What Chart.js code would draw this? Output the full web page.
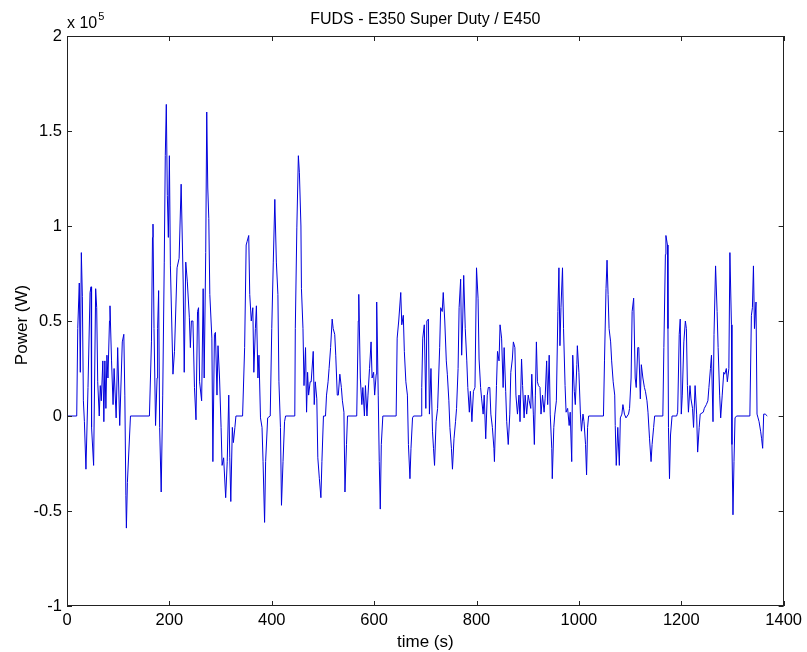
<!DOCTYPE html>
<html>
<head>
<meta charset="utf-8">
<title>FUDS - E350 Super Duty / E450</title>
<script src="https://cdn.jsdelivr.net/npm/chart.js@4"></script>
<style>
  body { margin: 0; background: #fff; }
  canvas { display: block; }
</style>
</head>
<body>
<canvas id="fudsChart" width="807" height="652"></canvas>
<script>
// FUDS power trace (time in s, power in kW)
const timeS = [
    0, 19, 21, 24, 26, 28, 30, 32, 34, 37,
    41, 45, 47, 48, 52, 56, 58, 60, 63, 65,
    67, 70, 72, 74, 76, 78, 80, 83, 84, 87,
    90, 92, 96, 99, 103, 108, 111, 113, 115, 116,
    118, 124, 161, 165, 167, 168, 170, 173, 176, 177,
    179, 181, 184, 187, 190, 192, 194, 196, 198, 200,
    202, 207, 210, 215, 219, 223, 227, 229, 232, 235,
    239, 241, 243, 246, 249, 252, 255, 257, 259, 263,
    266, 268, 271, 273, 275, 277, 279, 283, 285, 288,
    290, 293, 295, 298, 301, 303, 306, 310, 313, 316,
    318, 320, 323, 325, 328, 330, 343, 347, 350, 352,
    355, 357, 360, 363, 365, 368, 370, 373, 375, 378,
    381, 383, 386, 388, 392, 397, 400, 403, 406, 409,
    412, 414, 417, 419, 422, 425, 427, 445, 446, 449,
    452, 454, 457, 458, 461, 463, 466, 468, 470, 472,
    475, 477, 481, 483, 485, 488, 490, 493, 496, 498,
    501, 505, 507, 510, 512, 515, 518, 520, 523, 525,
    528, 530, 533, 536, 538, 541, 543, 546, 548, 566,
    569, 570, 573, 576, 578, 581, 583, 586, 588, 591,
    594, 596, 599, 601, 604, 605, 608, 610, 612, 614,
    617, 643, 645, 648, 652, 654, 657, 659, 662, 665,
    667, 670, 672, 675, 677, 692, 693, 695, 698, 701,
    703, 706, 708, 711, 714, 716, 718, 721, 724, 728,
    730, 733, 735, 738, 741, 743, 746, 748, 751, 753,
    756, 759, 761, 764, 766, 769, 771, 773, 775, 778,
    781, 783, 786, 788, 791, 794, 797, 800, 803, 805,
    808, 810, 813, 815, 818, 821, 823, 826, 828, 831,
    834, 835, 839, 841, 844, 846, 849, 852, 854, 857,
    859, 862, 865, 867, 870, 872, 875, 877, 880, 883,
    885, 888, 890, 893, 895, 898, 901, 903, 906, 908,
    911, 913, 915, 917, 919, 921, 924, 926, 929, 932,
    934, 937, 939, 942, 944, 947, 948, 951, 953, 956,
    959, 961, 963, 965, 968, 970, 973, 975, 978, 981,
    983, 986, 988, 991, 993, 996, 997, 1000, 1003, 1005,
    1008, 1010, 1013, 1015, 1017, 1019, 1048, 1050, 1053, 1055,
    1057, 1059, 1062, 1064, 1067, 1070, 1071, 1073, 1076, 1079,
    1081, 1084, 1086, 1089, 1092, 1097, 1099, 1102, 1104, 1107,
    1110, 1112, 1115, 1117, 1120, 1122, 1125, 1128, 1130, 1133,
    1135, 1138, 1141, 1143, 1146, 1148, 1164, 1166, 1169, 1170,
    1173, 1174, 1175, 1177, 1179, 1182, 1191, 1193, 1196, 1198,
    1200, 1202, 1205, 1208, 1210, 1212, 1214, 1217, 1219, 1222,
    1224, 1227, 1230, 1232, 1235, 1237, 1243, 1245, 1249, 1252,
    1254, 1257, 1259, 1262, 1264, 1267, 1270, 1272, 1275, 1277,
    1280, 1283, 1285, 1288, 1290, 1293, 1295, 1298, 1299, 1301,
    1303, 1305, 1308, 1334, 1337, 1339, 1341, 1343, 1346, 1348,
    1350, 1352, 1355, 1357, 1359, 1361, 1364, 1368
];

const powerKw = [
    0, 0, 46, 70, 23, 86, 63, 8, -3, -28,
    15, 65, 68, -6, -26, 67, 57, 18, 0, 16,
    8, 29, -3, 29, 4, 32, 20, 50, 58, 29,
    6, 25, -1, 36, -5, 39, 43, 11, -42, -59,
    -35, 0, 0, 39, 94, 101, 46, -5, 20, 46,
    66, -6, -40, 11, 81, 137, 164, 116, 94, 137,
    79, 22, 34, 78, 83, 122, 70, 23, 81, 71,
    52, 36, 50, 50, 15, -2, 55, 57, 18, 8,
    67, 20, 86, 160, 120, 104, 64, 41, -24, 43,
    44, 11, 37, 20, -6, -26, -22, -43, -24, 11,
    -22, -45, -6, -14, -6, 0, 0, 36, 90, 92,
    95, 64, 50, 57, 23, 46, 58, 20, 32, -1,
    -6, -24, -56, -24, -1, 0, 46, 81, 114, 81,
    64, 18, -6, -47, -24, -3, 0, 0, 46, 99,
    137, 128, 100, 67, 46, 16, 36, 2, 23, 11,
    18, 18, 34, 6, 18, 9, -22, -33, -43, -24,
    0, 0, 11, 18, 25, 36, 51, 46, 43, 32,
    11, 11, 22, 15, 8, 2, -40, -15, 0, 0,
    50, 64, 20, 6, 15, 0, 16, 0, 11, 25,
    39, 20, 23, 11, 22, 60, 11, -24, -49, -15,
    0, 0, 41, 50, 65, 48, 53, 34, 18, 11,
    -15, -33, -17, -1, 0, 0, 15, 41, 48, 4,
    50, 51, 1, 25, -8, -17, -26, -3, 4, 36,
    57, 55, 65, 50, 29, 22, 8, -6, -17, -28,
    -12, -3, 4, 25, 57, 72, 32, 50, 74, 46,
    29, 15, 2, 13, -3, 13, 15, 78, 62, 30,
    15, 9, 1, 11, -12, 11, 15, 15, 1, -6,
    -17, -24, 16, 34, 29, 48, 41, 15, 36, 13,
    -3, -15, 1, 23, 30, 39, 36, 11, 1, 11,
    -3, 30, 16, -1, 11, 1, 11, 8, 4, 22,
    1, -15, 11, 39, 18, 16, 15, 1, 11, 2,
    9, 29, 6, 32, 1, -17, -33, -6, 1, 8,
    55, 78, 37, 57, 78, 46, 16, 2, 4, -5,
    2, -24, 32, 13, 6, 27, 37, 23, 1, -8,
    1, -3, -15, -31, -6, 0, 0, 29, 67, 82,
    64, 46, 39, 29, 18, 11, -5, -26, -6, -26,
    -1, 1, 6, 1, -1, 1, 4, 20, 55, 62,
    20, 15, 36, 36, 9, 27, 20, 15, 13, 8,
    2, -12, -24, -15, -6, 0, 0, 36, 85, 95,
    90, 46, -6, -33, -10, 0, 0, 2, 43, 51,
    1, 11, 39, 50, 46, 16, 2, 16, 9, 4,
    -6, 16, 1, -19, -6, 1, 2, 4, 6, 8,
    15, 25, 32, -3, 43, 79, 55, 36, 11, -1,
    11, 23, 22, 25, 18, 25, 86, 48, -15, -52,
    -24, -1, 0, 0, 53, 57, 79, 46, 60, 1,
    -1, -3, -8, -12, -17, 1, 1, 0
];

// axis ticks (y ticks are in kW, shown as multiples of 10^5 W)
const xTicks = [0, 200, 400, 600, 800, 1000, 1200, 1400];
const yTicks = [-100, -50, 0, 50, 100, 150, 200];

const FONT = 'Arial, "Liberation Sans", sans-serif';

// MATLAB style frame: box, inward ticks, title, labels, exponent
const matlabFrame = {
    id: 'matlabFrame',
    afterDraw(chart) {
        const ctx = chart.ctx;
        const a = chart.chartArea;
        const xs = chart.scales.x;
        const ys = chart.scales.y;
        const tl = 5;

        ctx.save();
        ctx.strokeStyle = '#222';
        ctx.lineWidth = 1;
        ctx.strokeRect(Math.round(a.left) + 0.5, Math.round(a.top) + 0.5,
            Math.round(a.right - a.left) - 1, Math.round(a.bottom - a.top) - 1);

        ctx.beginPath();
        xTicks.forEach(v => {
            const px = Math.round(xs.getPixelForValue(v)) + 0.5;
            ctx.moveTo(px, a.bottom); ctx.lineTo(px, a.bottom - tl);
            ctx.moveTo(px, a.top); ctx.lineTo(px, a.top + tl);
        });
        yTicks.forEach(v => {
            const py = Math.round(ys.getPixelForValue(v)) + 0.5;
            ctx.moveTo(a.left, py); ctx.lineTo(a.left + tl, py);
            ctx.moveTo(a.right, py); ctx.lineTo(a.right - tl, py);
        });
        ctx.stroke();

        ctx.fillStyle = '#000';
        ctx.textAlign = 'center';
        ctx.textBaseline = 'alphabetic';
        const cx = (a.left + a.right) / 2;
        ctx.font = '16px ' + FONT;
        ctx.fillText('FUDS - E350 Super Duty / E450', cx, 24);
        ctx.font = '17px ' + FONT;
        ctx.fillText('time (s)', cx, 647);

        ctx.save();
        ctx.translate(27, (a.top + a.bottom) / 2 + 4);
        ctx.rotate(-Math.PI / 2);
        ctx.fillText('Power (W)', 0, 0);
        ctx.restore();

        ctx.textAlign = 'left';
        ctx.font = '16px ' + FONT;
        ctx.fillText('x 10', a.left, 28);
        const w = ctx.measureText('x 10').width;
        ctx.font = '11px ' + FONT;
        ctx.fillText('5', a.left + w + 1, 20);
        ctx.restore();
    }
};

new Chart(document.getElementById('fudsChart').getContext('2d'), {
    type: 'line',
    data: {
        datasets: [{
            data: timeS.map((t, i) => ({ x: t, y: powerKw[i] })),
            borderColor: '#0000dc',
            borderWidth: 1,
            pointRadius: 0,
            tension: 0,
            fill: false
        }]
    },
    options: {
        responsive: false,
        animation: false,
        devicePixelRatio: 1,
        layout: { padding: { left: 0, top: 36, right: 18, bottom: 0 } },
        plugins: {
            legend: { display: false },
            title: { display: false },
            tooltip: { enabled: false }
        },
        scales: {
            x: {
                type: 'linear',
                min: 0,
                max: 1400,
                afterFit(scale) { scale.height = 46; },
                afterBuildTicks(scale) { scale.ticks = xTicks.map(v => ({ value: v })); },
                grid: { display: false, drawTicks: false },
                border: { display: false },
                ticks: {
                    autoSkip: false,
                    maxRotation: 0,
                    padding: 5,
                    color: '#000',
                    font: { family: FONT, size: 16.5 },
                    callback: v => String(v)
                }
            },
            y: {
                type: 'linear',
                min: -100,
                max: 200,
                afterFit(scale) { scale.width = 67; },
                afterBuildTicks(scale) { scale.ticks = yTicks.map(v => ({ value: v })); },
                grid: { display: false, drawTicks: false },
                border: { display: false },
                ticks: {
                    autoSkip: false,
                    padding: 5,
                    color: '#000',
                    font: { family: FONT, size: 16.5 },
                    callback: v => String(v / 100)
                }
            }
        }
    },
    plugins: [matlabFrame]
});
</script>
</body>
</html>
